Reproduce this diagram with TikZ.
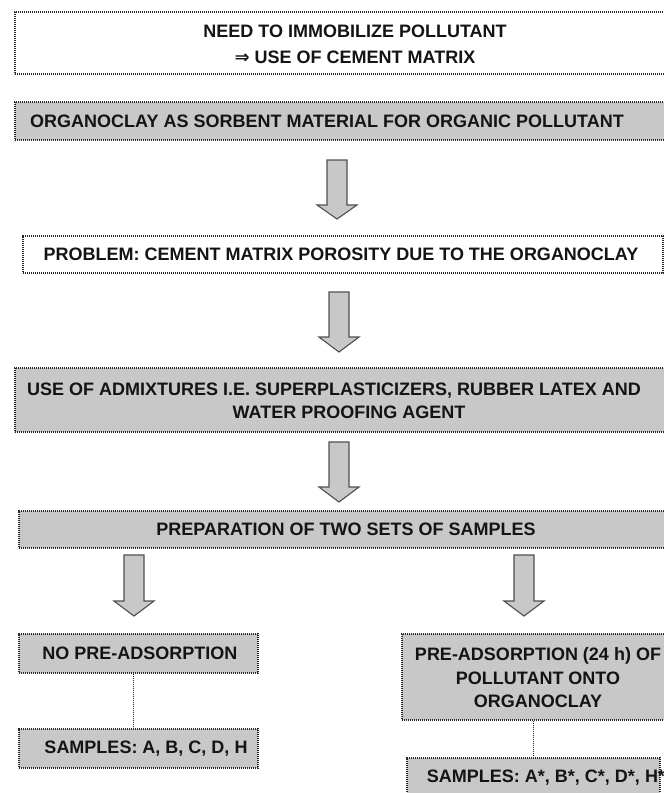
\documentclass[tikz,border=0pt]{standalone}
\usepackage{fontspec}
\setmainfont{Liberation Sans}
\newfontfamily\symf{DejaVu Sans}
\definecolor{boxgray}{RGB}{200,200,200}
\definecolor{edge}{RGB}{40,40,40}
\definecolor{arredge}{RGB}{80,80,80}
\definecolor{ink}{RGB}{20,20,20}
\tikzset{
  frame/.style={draw=edge, line width=1.3pt, dash pattern=on 1.1pt off 0.9pt, inner sep=0pt},
  graybox/.style={frame, fill=boxgray},
  whitebox/.style={frame, fill=white},
  lbl/.style={inner sep=0pt, text=ink, font=\bfseries\fontsize{18}{23.5}\selectfont, align=center},
  bigarrow/.style={fill=boxgray, draw=arredge, line width=1.1pt, line join=miter},
  link/.style={draw=edge, line width=0.9pt, dash pattern=on 1pt off 1pt}
}
\newcommand\blockarr[4]{\draw[bigarrow] (#1-10,#2) -- (#1+10,#2) -- (#1+10,#3) -- (#1+20,#3) -- (#1,#4) -- (#1-20,#3) -- (#1-10,#3) -- cycle;}
\begin{document}
\begin{tikzpicture}[x=1pt,y=-1pt]
\useasboundingbox (0,0) rectangle (664,793);
\clip (0,0) rectangle (664,793);
% box 1
\node[whitebox, minimum width=680pt, minimum height=62pt] (b1) at (355,43) {};
\node[lbl, font=\bfseries\fontsize{18}{26}\selectfont] (b1t) at (355,44) {NEED TO IMMOBILIZE POLLUTANT\\{\symf\bfseries ⇒} USE OF CEMENT MATRIX};
% box 2
\node[graybox, minimum width=690pt, minimum height=38pt] (b2) at (360,121) {};
\node[lbl, anchor=west] (b2t) at (30,121) {ORGANOCLAY AS SORBENT MATERIAL FOR ORGANIC POLLUTANT};
% box 3
\node[whitebox, minimum width=640pt, minimum height=37pt] (b3) at (343,254.5) {};
\node[lbl] (b3t) at (341,254.5) {PROBLEM: CEMENT MATRIX POROSITY DUE TO THE ORGANOCLAY};
% box 4
\node[graybox, minimum width=680pt, minimum height=64pt] (b4) at (355,400) {};
\node[lbl] (b4t) at (334,401) {USE OF ADMIXTURES I.E. SUPERPLASTICIZERS, RUBBER LATEX AND\\\hspace*{30pt}WATER PROOFING AGENT};
% box 5
\node[graybox, minimum width=654pt, minimum height=37pt] (b5) at (346,529.5) {};
\node[lbl] (b5t) at (346,529.5) {PREPARATION OF TWO SETS OF SAMPLES};
% left branch
\node[graybox, minimum width=239pt, minimum height=39pt] (np) at (138.5,653.5) {};
\node[lbl] (npt) at (140,653.5) {NO PRE-ADSORPTION};
\node[graybox, minimum width=239pt, minimum height=39pt] (sl) at (138.5,748.5) {};
\node[lbl] (slt) at (146,748.5) {SAMPLES: A, B, C, D, H};
% right branch
\node[graybox, minimum width=270pt, minimum height=86pt] (pr) at (537,677) {};
\node[lbl] (prt) at (538,678) {PRE-ADSORPTION (24 h) OF\\POLLUTANT ONTO\\ORGANOCLAY};
\node[graybox, minimum width=253pt, minimum height=39pt] (sr) at (533.5,777.5) {};
\node[lbl] (srt) at (546,778) {SAMPLES: A*, B*, C*, D*, H*};
% dotted links
\coordinate (lx) at (133,0);
\coordinate (rx) at (533,0);
\draw[link] (lx |- np.south) -- (lx |- sl.north);
\draw[link] (rx |- pr.south) -- (rx |- sr.north);
% block arrows
\blockarr{337}{160}{205}{219}
\blockarr{339}{292}{337}{352}
\blockarr{339}{442}{487}{502}
\blockarr{134}{555}{601}{616}
\blockarr{524}{555}{601}{616}
% right border drawn over H* as in the reference
\draw[draw=edge, line width=1.3pt, dash pattern=on 1.1pt off 0.9pt] (sr.north east) -- (sr.south east);
\end{tikzpicture}
\end{document}
